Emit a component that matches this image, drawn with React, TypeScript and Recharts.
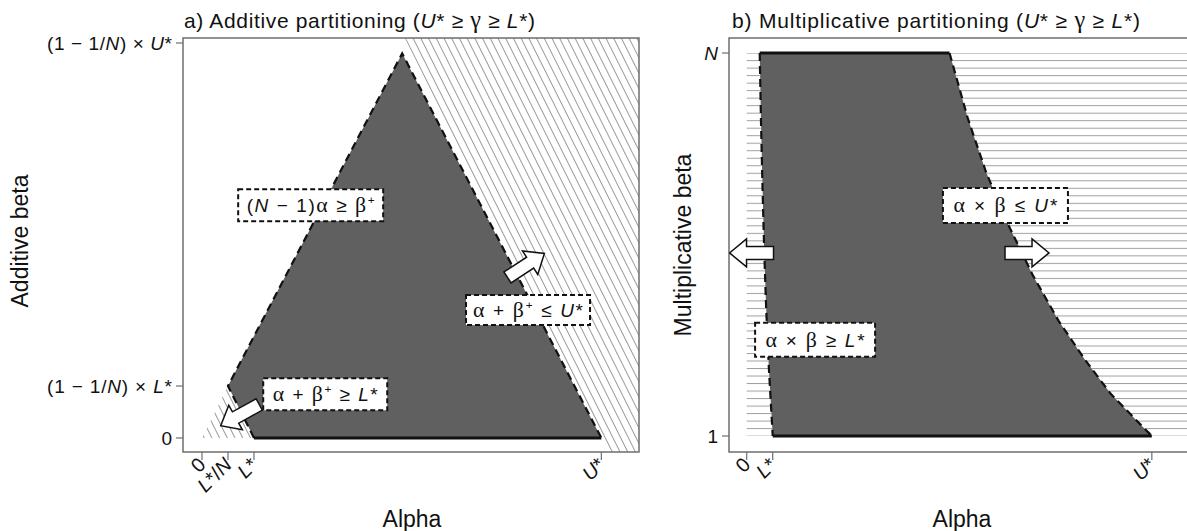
import React from 'react';
import {
  ComposedChart,
  XAxis,
  YAxis,
  Area,
  Line,
  Scatter,
  ReferenceArea,
} from 'recharts';

// ---- panel a: additive partitioning (L* = 1, N = 2) ----
const aXTicks = [0, 0.5, 1, 7.68];
const aXLabels = ['0', 'L*/N', 'L*', 'U*'];
const aYTicks = [0, 0.5, 3.8];
const aYLabels = ['0', '(1 − 1/N) × L*', '(1 − 1/N) × U*'];

const aShadeAlpha = [0.5, 1, 3.85, 7.68];
const aShadeLow = [0.5, 0, 0, 0];
const aShadeHigh = [0.5, 0.98, 3.7, 0];

const aDashAlpha = [1, 0.5, 3.85, 7.68];
const aDashBeta = [0, 0.5, 3.7, 0];
const aBaseAlpha = [1, 7.68];
const aBaseBeta = [0, 0];

const aHatchRightAlpha = [3.9, 7.8, 8.404];
const aHatchRightLow = [3.848, -0.135, -0.135];
const aHatchRightHigh = [3.848, 3.848, 3.848];
const aHatchLeftAlpha = [0, 0.5, 1];
const aHatchLeftLow = [0, 0, 0];
const aHatchLeftHigh = [0, 0.5, 0];

const aLabelText = ['(N − 1)α ≥ β⁺', 'α + β⁺ ≤ U*', 'α + β⁺ ≥ L*'];
const aLabelAlpha = [2.09, 6.27, 2.37];
const aLabelBeta = [2.24, 1.23, 0.42];
const aArrowAlpha = [6.23, 0.73];
const aArrowBeta = [1.66, 0.22];
const aArrowDir = [-33, 151];

// ---- panel b: multiplicative partitioning (L* = 1, N = 2) ----
const bXTicks = [0, 1, 15.58];
const bXLabels = ['0', 'L*', 'U*'];
const bYTicks = [1, 2];
const bYLabels = ['1', 'N'];

const bShadeAlpha = [0.5, 0.55, 0.6, 0.67, 0.75, 0.85, 1, 7.8, 8.5, 9.2, 10, 11, 12, 13, 14, 15, 15.58];
const bShadeLow = [2, 1.82, 1.67, 1.49, 1.33, 1.18, 1, 1, 1, 1, 1, 1, 1, 1, 1, 1, 1];
const bShadeHigh = [2, 2, 2, 2, 2, 2, 2, 2, 1.83, 1.69, 1.56, 1.42, 1.3, 1.2, 1.11, 1.04, 1];

const bLeftAlpha = [0.5, 0.55, 0.6, 0.67, 0.75, 0.85, 1];
const bLeftBeta = [2, 1.82, 1.67, 1.49, 1.33, 1.18, 1];
const bRightAlpha = [7.8, 8.5, 9.2, 10, 11, 12, 13, 14, 15, 15.58];
const bRightBeta = [2, 1.83, 1.69, 1.56, 1.42, 1.3, 1.2, 1.11, 1.04, 1];
const bTopAlpha = [0.5, 7.8];
const bTopBeta = [2, 2];
const bBottomAlpha = [1, 15.58];
const bBottomBeta = [1, 1];

const bHatchLeftAlpha = [0, 0.5, 0.55, 0.6, 0.67, 0.75, 0.85, 1];
const bHatchLeftLow = [1, 1, 1, 1, 1, 1, 1, 1];
const bHatchLeftHigh = [2, 2, 1.82, 1.67, 1.49, 1.33, 1.18, 1];
const bHatchRightAlpha = [7.8, 8.5, 9.2, 10, 11, 12, 13, 14, 15, 15.58, 17.24];
const bHatchRightLow = [2, 1.83, 1.69, 1.56, 1.42, 1.3, 1.2, 1.11, 1.04, 1, 1];
const bHatchRightHigh = [2, 2, 2, 2, 2, 2, 2, 2, 2, 2, 2];

const bLabelText = ['α × β ≤ U*', 'α × β ≥ L*'];
const bLabelAlpha = [9.95, 2.63];
const bLabelBeta = [1.602, 1.251];
const bArrowAlpha = [0.185, 10.78];
const bArrowBeta = [1.478, 1.478];
const bArrowDir = [180, 0];

// ---- look ----
const SANS = '"Liberation Sans", Arial, Helvetica, sans-serif';
const SERIF = '"Liberation Serif", "DejaVu Serif", serif';
const INK = '#111';
const AXIS = '#6e6e6e';
const SHADE = '#606060';

const A_X = [-0.365, 8.404];
const A_Y = [-0.135, 3.848];
const B_X = [-0.681, 17.24];
const B_Y = [0.9582, 2.0392];

const aLabelBox = [
  [145, 32, 128],
  [124, 30, 110],
  [124, 32, 105],
];
const bLabelBox = [
  [125, 35, 104],
  [120, 34, 99],
];

const ranged = (al: number[], lo: number[], hi: number[]) =>
  al.map((a, i) => ({ a, r: [lo[i], hi[i]] }));
const pts = (al: number[], be: number[]) => al.map((a, i) => ({ a, b: be[i] }));

// split a label into italic letters, greek letters and superscript plus
function rich(s: string, size: number) {
  const segs: { t: string; k: string }[] = [];
  for (const ch of s) {
    const k = 'LUN'.includes(ch) ? 'i' : 'αβγ'.includes(ch) ? 'g' : ch === '⁺' ? 's' : 'n';
    const t = k === 's' ? '+' : ch;
    const last = segs[segs.length - 1];
    if (last && last.k === k && k !== 's') last.t += t;
    else segs.push({ t, k });
  }
  let prevSup = false;
  return segs.map((g, j) => {
    const p: any = { key: j };
    if (g.k === 'i') p.fontStyle = 'italic';
    if (g.k === 'g') {
      p.fontFamily = SERIF;
      p.fontSize = size * 1.15;
    }
    if (g.k === 's') {
      p.fontSize = size * 0.62;
      p.dy = -size * 0.42;
    } else if (prevSup) p.dy = size * 0.42;
    prevSup = g.k === 's';
    return <tspan {...p}>{g.t}</tspan>;
  });
}

const xTick = (ticks: number[], labels: string[]) => (p: any) => {
  const i = ticks.indexOf(p.payload.value);
  const x = p.x + 5;
  const y = p.y + 4;
  return (
    <text x={x} y={y} textAnchor="end" transform={`rotate(-45 ${x} ${y})`}
      fontFamily={SANS} fontSize={20} fill={INK}>
      {rich(labels[i] ?? '', 20)}
    </text>
  );
};

const yTick = (ticks: number[], labels: string[]) => (p: any) => {
  const i = ticks.indexOf(p.payload.value);
  const lab = labels[i] ?? '';
  const long = lab.length > 3;
  return (
    <text x={p.x} y={p.y} dy="0.36em" textAnchor="end" fontFamily={SANS} fontSize={19}
      fill={INK} textLength={long ? 125 : undefined} lengthAdjust={long ? 'spacing' : undefined}>
      {rich(lab, 19)}
    </text>
  );
};

const arrowShape = (p: any) => {
  const { cx, cy, payload } = p;
  return (
    <polygon
      points="-22,-6.5 5,-6.5 5,-14 22,0 5,14 5,6.5 -22,6.5"
      transform={`translate(${cx} ${cy}) rotate(${payload.dir})`}
      fill="#fff" stroke={INK} strokeWidth={1.5} strokeLinejoin="miter"
    />
  );
};

const labelShape = (texts: string[], boxes: number[][]) => (p: any) => {
  const { cx, cy, payload } = p;
  const [w, h, tl] = boxes[payload.k];
  return (
    <g>
      <rect x={cx - w / 2} y={cy - h / 2} width={w} height={h} fill="#fff"
        stroke={INK} strokeWidth={2} strokeDasharray="5 3" />
      <text x={cx} y={cy} dy="0.36em" textAnchor="middle" fontFamily={SANS} fontSize={19}
        fill={INK} textLength={tl} lengthAdjust="spacing">
        {rich(texts[payload.k], 19)}
      </text>
    </g>
  );
};

const aLabels = aLabelAlpha.map((a, k) => ({ a, b: aLabelBeta[k], k }));
const aArrows = aArrowAlpha.map((a, k) => ({ a, b: aArrowBeta[k], dir: aArrowDir[k] }));
const bLabels = bLabelAlpha.map((a, k) => ({ a, b: bLabelBeta[k], k }));
const bArrows = bArrowAlpha.map((a, k) => ({ a, b: bArrowBeta[k], dir: bArrowDir[k] }));

const axisCommon = {
  type: 'number' as const,
  allowDataOverflow: true,
  interval: 0 as const,
  axisLine: false,
  tickLine: { stroke: AXIS, strokeWidth: 1.2 },
};

function PanelA() {
  return (
    <ComposedChart width={660} height={531} margin={{ top: 38, right: 21, bottom: 0, left: 0 }}>
      <defs>
        <pattern id="hatchDiag" patternUnits="userSpaceOnUse" width="6.9" height="20"
          patternTransform="rotate(-26.57)">
          <line x1="0.5" y1="0" x2="0.5" y2="20" stroke="#9a9a9a" strokeWidth="1" />
        </pattern>
      </defs>
      <XAxis {...axisCommon} dataKey="a" domain={A_X} ticks={aXTicks} height={79}
        tickSize={8} tickMargin={2} tick={xTick(aXTicks, aXLabels)} />
      <YAxis {...axisCommon} domain={A_Y} ticks={aYTicks} width={183}
        tickSize={7} tickMargin={4} tick={yTick(aYTicks, aYLabels)} />
      <Area data={ranged(aHatchRightAlpha, aHatchRightLow, aHatchRightHigh)} dataKey="r"
        type="linear" stroke="none" fill="url(#hatchDiag)" fillOpacity={1} isAnimationActive={false} />
      <Area data={ranged(aHatchLeftAlpha, aHatchLeftLow, aHatchLeftHigh)} dataKey="r"
        type="linear" stroke="none" fill="url(#hatchDiag)" fillOpacity={1} isAnimationActive={false} />
      <Area data={ranged(aShadeAlpha, aShadeLow, aShadeHigh)} dataKey="r" type="linear"
        stroke="none" fill={SHADE} fillOpacity={1} isAnimationActive={false} />
      <Line data={pts(aBaseAlpha, aBaseBeta)} dataKey="b" type="linear" stroke={INK}
        strokeWidth={3} dot={false} activeDot={false} isAnimationActive={false} />
      <Line data={pts(aDashAlpha, aDashBeta)} dataKey="b" type="linear" stroke={INK}
        strokeWidth={2.2} strokeDasharray="8 5" dot={false} activeDot={false} isAnimationActive={false} />
      <ReferenceArea x1={A_X[0]} x2={A_X[1]} y1={A_Y[0]} y2={A_Y[1]} fill="none"
        stroke={AXIS} strokeWidth={1.5} />
      <Scatter data={aArrows} dataKey="b" shape={arrowShape} isAnimationActive={false} />
      <Scatter data={aLabels} dataKey="b" shape={labelShape(aLabelText, aLabelBox)}
        isAnimationActive={false} />
    </ComposedChart>
  );
}

function PanelB() {
  return (
    <ComposedChart width={540} height={531} margin={{ top: 38, right: 5, bottom: 0, left: 0 }}>
      <defs>
        <pattern id="hatchHoriz" patternUnits="userSpaceOnUse" x="0" y="52.6" width="20" height="7.51">
          <line x1="0" y1="0.5" x2="20" y2="0.5" stroke="#a0a0a0" strokeWidth="1" />
        </pattern>
      </defs>
      <XAxis {...axisCommon} dataKey="a" domain={B_X} ticks={bXTicks} height={79}
        tickSize={8} tickMargin={2} tick={xTick(bXTicks, bXLabels)} />
      <YAxis {...axisCommon} domain={B_Y} ticks={bYTicks} width={69}
        tickSize={7} tickMargin={4} tick={yTick(bYTicks, bYLabels)} />
      <Area data={ranged(bHatchLeftAlpha, bHatchLeftLow, bHatchLeftHigh)} dataKey="r"
        type="linear" stroke="none" fill="url(#hatchHoriz)" fillOpacity={1} isAnimationActive={false} />
      <Area data={ranged(bHatchRightAlpha, bHatchRightLow, bHatchRightHigh)} dataKey="r"
        type="linear" stroke="none" fill="url(#hatchHoriz)" fillOpacity={1} isAnimationActive={false} />
      <Area data={ranged(bShadeAlpha, bShadeLow, bShadeHigh)} dataKey="r" type="linear"
        stroke="none" fill={SHADE} fillOpacity={1} isAnimationActive={false} />
      <Line data={pts(bTopAlpha, bTopBeta)} dataKey="b" type="linear" stroke={INK}
        strokeWidth={3} dot={false} activeDot={false} isAnimationActive={false} />
      <Line data={pts(bBottomAlpha, bBottomBeta)} dataKey="b" type="linear" stroke={INK}
        strokeWidth={3} dot={false} activeDot={false} isAnimationActive={false} />
      <Line data={pts(bLeftAlpha, bLeftBeta)} dataKey="b" type="linear" stroke={INK}
        strokeWidth={2.2} strokeDasharray="8 5" dot={false} activeDot={false} isAnimationActive={false} />
      <Line data={pts(bRightAlpha, bRightBeta)} dataKey="b" type="linear" stroke={INK}
        strokeWidth={2.2} strokeDasharray="8 5" dot={false} activeDot={false} isAnimationActive={false} />
      <ReferenceArea x1={B_X[0]} x2={B_X[1]} y1={B_Y[0]} y2={B_Y[1]} fill="none"
        stroke={AXIS} strokeWidth={1.5} />
      <Scatter data={bArrows} dataKey="b" shape={arrowShape} isAnimationActive={false} />
      <Scatter data={bLabels} dataKey="b" shape={labelShape(bLabelText, bLabelBox)}
        isAnimationActive={false} />
    </ComposedChart>
  );
}

export default function App() {
  return (
    <div style={{ position: 'absolute', left: 0, top: 0, width: 1187, height: 531,
      overflow: 'hidden', background: '#fff' }}>
      <div style={{ position: 'absolute', left: 0, top: 0 }}>
        <PanelA />
      </div>
      <div style={{ position: 'absolute', left: 660, top: 0 }}>
        <PanelB />
      </div>
      <svg width={1187} height={531} style={{ position: 'absolute', left: 0, top: 0, pointerEvents: 'none' }}
        fontFamily={SANS} fill={INK}>
        <text x={184} y={28} fontSize={21} textLength={351} lengthAdjust="spacing">
          {rich('a) Additive partitioning (U* ≥ γ ≥ L*)', 21)}
        </text>
        <text x={732} y={28} fontSize={21} textLength={408} lengthAdjust="spacing">
          {rich('b) Multiplicative partitioning (U* ≥ γ ≥ L*)', 21)}
        </text>
        <text x={412} y={527} fontSize={23} textAnchor="middle">Alpha</text>
        <text x={962} y={527} fontSize={23} textAnchor="middle">Alpha</text>
        <text x={28} y={241} fontSize={23} textAnchor="middle" transform="rotate(-90 28 241)">
          Additive beta
        </text>
        <text x={691} y={245} fontSize={23} textAnchor="middle" transform="rotate(-90 691 245)">
          Multiplicative beta
        </text>
      </svg>
    </div>
  );
}
